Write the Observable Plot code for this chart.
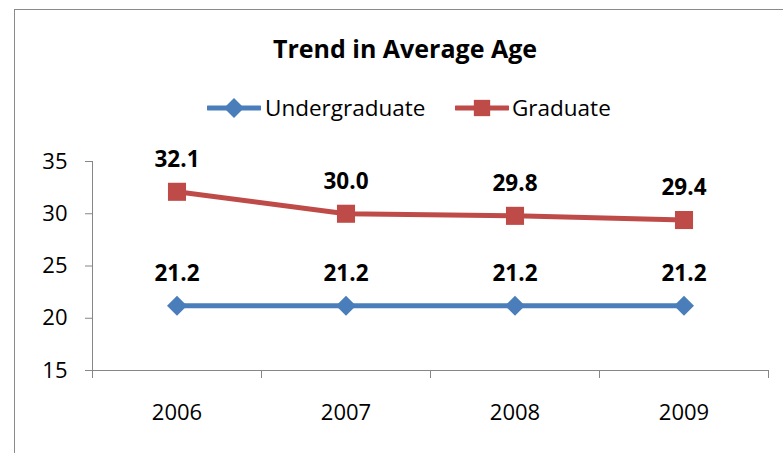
<!DOCTYPE html>
<html>
<head>
<meta charset="utf-8">
<script src="https://cdn.jsdelivr.net/npm/d3@7"></script>
<script src="https://cdn.jsdelivr.net/npm/@observablehq/plot@0.6"></script>
<style>
  html, body { margin: 0; padding: 0; background: #fff; }
  #wrap { position: relative; width: 783px; height: 453px; overflow: hidden; font-family: "Open Sans", sans-serif; }
  #frame { position: absolute; left: 14px; top: 9px; width: 800px; height: 460px; border-left: 1px solid #8a8a8a; border-top: 1px solid #8a8a8a; box-sizing: border-box; }
  #title { position: absolute; left: 0; top: 36px; width: 810px; text-align: center; font-weight: bold; font-size: 25px; line-height: 25px; color: #000; }
  .legend-item { position: absolute; display: block; }
  .legend-text { position: absolute; font-size: 22.5px; line-height: 22.5px; color: #000; white-space: nowrap; }
  #chart { position: absolute; left: 0; top: 0; }
</style>
</head>
<body>
<div id="wrap">
  <div id="frame"></div>
  <div id="chart"></div>
  <div id="title"></div>
  <div id="legend"></div>
</div>
<script>
// ---- data ----
const titleText = "Trend in Average Age";
const years = ["2006", "2007", "2008", "2009"];
const undergraduate = [21.2, 21.2, 21.2, 21.2];
const graduate = [32.1, 30.0, 29.8, 29.4];
const seriesNames = ["Undergraduate", "Graduate"];
const seriesColors = ["#4A7EBB", "#BE4B48"];
const yTicks = [15, 20, 25, 30, 35];

const axisGray = "#868686";

const rows = [];
years.forEach((y, i) => {
  rows.push({series: seriesNames[0], year: y, xi: i + 0.5, value: undergraduate[i]});
  rows.push({series: seriesNames[1], year: y, xi: i + 0.5, value: graduate[i]});
});
const ug = rows.filter(d => d.series === seriesNames[0]);
const gr = rows.filter(d => d.series === seriesNames[1]);

const chart = Plot.plot({
  width: 783,
  height: 453,
  marginLeft: 92,
  marginRight: 15,
  marginTop: 161,
  marginBottom: 83,
  style: {fontFamily: "'Open Sans', sans-serif", fontSize: "22px", color: "#000", background: "transparent", overflow: "visible"},
  x: {type: "linear", domain: [0, years.length], label: null},
  y: {type: "linear", domain: [yTicks[0], yTicks[yTicks.length - 1]], label: null},
  color: {domain: seriesNames, range: seriesColors},
  marks: [
    Plot.ruleY([yTicks[0]], {stroke: axisGray, strokeWidth: 1}),
    Plot.ruleX([0], {stroke: axisGray, strokeWidth: 1}),
    Plot.axisY({ticks: yTicks, tickSize: 7, tickPadding: 18, stroke: axisGray, fill: "#000", fontSize: 22, label: null}),
    Plot.axisX({ticks: d3.range(years.length + 1), tickSize: 8, tickFormat: () => "", stroke: axisGray, label: null}),
    Plot.axisX({ticks: years.map((d, i) => i + 0.5), tickSize: 0, tickPadding: 34, tickFormat: d => years[Math.floor(d)], fill: "#000", fontSize: 22, label: null}),
    Plot.line(rows, {x: "xi", y: "value", z: "series", stroke: "series", strokeWidth: 5, strokeLinejoin: "round"}),
    Plot.dot(ug, {x: "xi", y: "value", symbol: "diamond2", r: 9, fill: "series", stroke: null}),
    Plot.dot(gr, {x: "xi", y: "value", symbol: "square", r: 10.2, fill: "series", stroke: null}),
    Plot.text(rows, {x: "xi", y: "value", text: d => d.value.toFixed(1), dy: -32, fontWeight: "bold", fontSize: 22.5, fill: "#000"})
  ]
});
document.getElementById("chart").appendChild(chart);

document.getElementById("title").textContent = titleText;

// ---- legend ----
const legend = d3.select("#legend");
const legendItems = [
  {name: seriesNames[0], color: seriesColors[0], symbol: d3.symbolDiamond2, size: Math.PI * 9 * 9, left: 207, textLeft: 265},
  {name: seriesNames[1], color: seriesColors[1], symbol: d3.symbolSquare, size: Math.PI * 9.2 * 9.2, left: 455, textLeft: 512}
];
legendItems.forEach(it => {
  const svg = legend.append("svg")
    .attr("class", "legend-item")
    .attr("width", 54).attr("height", 24)
    .style("left", it.left + "px").style("top", "96px");
  svg.append("line").attr("x1", 1).attr("x2", 53).attr("y1", 12).attr("y2", 12)
    .attr("stroke", it.color).attr("stroke-width", 5).attr("stroke-linecap", "round");
  svg.append("path").attr("transform", "translate(27,12)")
    .attr("d", d3.symbol(it.symbol, it.size)()).attr("fill", it.color);
  legend.append("div").attr("class", "legend-text")
    .style("left", it.textLeft + "px").style("top", "97px").text(it.name);
});
</script>
</body>
</html>
